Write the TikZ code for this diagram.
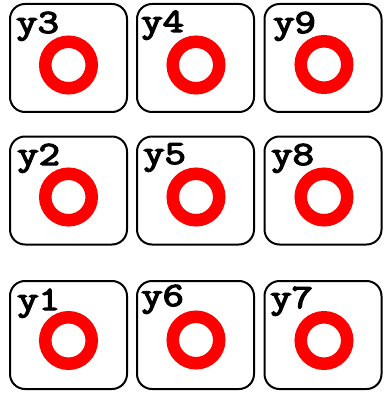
\documentclass[tikz,border=0pt]{standalone}
\usepackage{fontspec}
\newfontfamily\lblfont{Latin Modern Mono}[FakeBold=3.5]
\begin{document}
\begin{tikzpicture}[x=1pt,y=-1pt,
  cell/.style={draw=black, line width=2pt, rounded corners=15pt, minimum width=117pt, minimum height=108pt, inner sep=0pt},
  ring/.style={draw=red, line width=12.5pt, circle, minimum size=46.5pt, inner sep=0pt},
  lbl/.style={font=\fontsize{34}{34}\selectfont\lblfont, anchor=base west, inner sep=0pt, xscale=1.22}]
\useasboundingbox (0,0) rectangle (383,393);
% boxes
\node[cell] (b3) at (68.5,58) {};
\node[cell] (b4) at (195.5,58) {};
\node[cell] (b9) at (323,58) {};
\node[cell] (b2) at (68.5,190.5) {};
\node[cell] (b5) at (195.5,190.5) {};
\node[cell] (b8) at (323,190.5) {};
\node[cell] (b1) at (68.5,335) {};
\node[cell] (b6) at (195.5,335) {};
\node[cell] (b7) at (323,335) {};
% rings
\node[ring] (r3) at (68.5,65) {};
\node[ring] (r4) at (196,65) {};
\node[ring] (r9) at (324,64.5) {};
\node[ring] (r2) at (68.5,197) {};
\node[ring] (r5) at (196,197) {};
\node[ring] (r8) at (324,197) {};
\node[ring] (r1) at (68.5,340.5) {};
\node[ring] (r6) at (196,340) {};
\node[ring] (r7) at (324,340.5) {};
% labels
\node[lbl] (l3) at (16,33) {y3};
\node[lbl] (l4) at (141,32) {y4};
\node[lbl] (l9) at (273,33) {y9};
\node[lbl] (l2) at (17,165) {y2};
\node[lbl] (l5) at (143,164) {y5};
\node[lbl] (l8) at (271,165) {y8};
\node[lbl] (l1) at (17,310) {y1};
\node[lbl] (l6) at (141,306) {y6};
\node[lbl] (l7) at (270,308) {y7};
\end{tikzpicture}
\end{document}
